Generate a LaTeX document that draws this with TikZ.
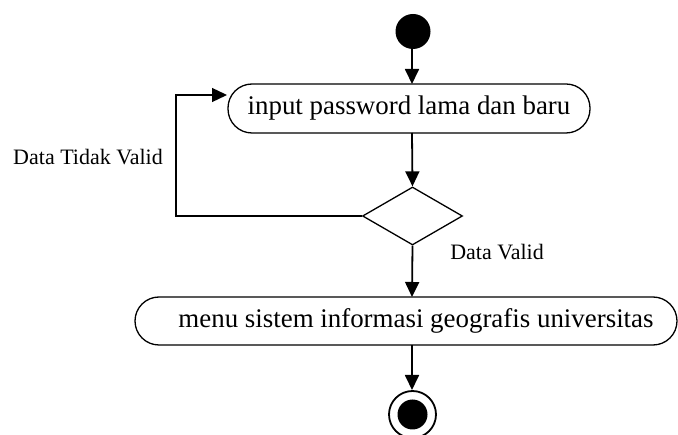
\documentclass[tikz,border=0pt]{standalone}
\usepackage{fontspec}
\setmainfont{Liberation Serif}
\usetikzlibrary{shapes.geometric,arrows.meta}
\begin{document}
\begin{tikzpicture}[x=1pt,y=-1pt,
  flow/.style={line width=1.8pt,-{Triangle[width=14pt,length=15pt]}},
  act/.style={draw,line width=1.3pt,rounded corners=24pt,inner sep=0pt,font=\fontsize{26.9}{30}\selectfont},
  lbl/.style={font=\fontsize{22}{26}\selectfont,inner sep=0pt}]
\useasboundingbox (0,0) rectangle (678,435);
\node[circle,fill=black,minimum size=35pt,inner sep=0pt] (start) at (413,31.5) {};
\node[act,minimum width=362pt,minimum height=49pt] (a1) at (409,108.5) {input password lama dan baru};
\node[diamond,draw,line width=1.3pt,minimum width=100pt,minimum height=58pt,inner sep=0pt] (dec) at (412.5,216) {};
\node[act,minimum width=542pt,minimum height=48pt] (a2) at (406,321) {\hspace*{20pt}menu sistem informasi geografis universitas};
\node[circle,draw,line width=1.8pt,minimum size=47pt,inner sep=0pt] (endo) at (412.5,414.5) {};
\node[circle,fill=black,minimum size=30pt,inner sep=0pt] (endi) at (412.5,414.5) {};
\coordinate (lp1) at (176,216);
\coordinate (lp2) at (176,95);
\coordinate (lp3) at (227,95);
\node[lbl] (tl) at (88,157) {Data Tidak Valid};
\node[lbl] (vl) at (497,252) {Data Valid};
\draw[flow] (412,48) -- (412,84);
\draw[flow] (412,133) -- (dec.north);
\draw[flow] (dec.south) -- (412,297);
\draw[flow] (412,345) -- (412,390);
\draw[line width=1.3pt,-{Triangle[width=14pt,length=15pt]}] (dec.west) -- (lp1) -- (lp2) -- (lp3);
\end{tikzpicture}
\end{document}
